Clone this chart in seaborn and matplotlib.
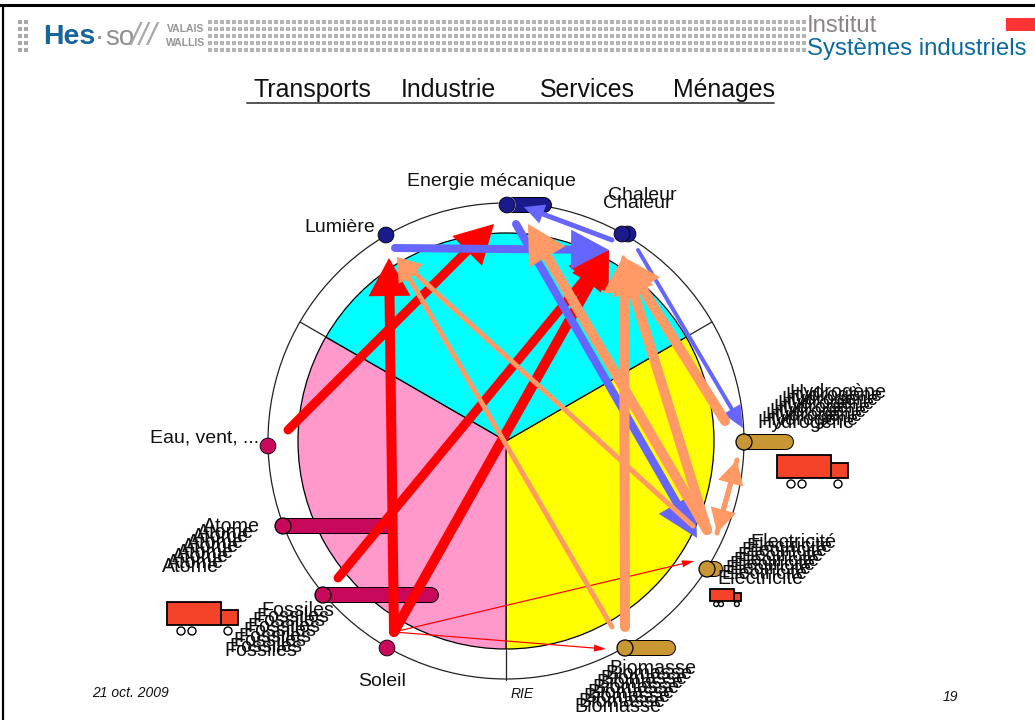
import matplotlib
matplotlib.use("Agg")
import matplotlib.pyplot as plt
import numpy as np
import pandas as pd
import seaborn as sns
from matplotlib.patches import Circle, Rectangle

# Diagram data, in slide pixels
sector_shares = [1, 1, 1]
sector_colors = ["#ffff00", "#ff99cc", "#00ffff"]
pie_center = (506, 441)
pie_radius = 208
ring_radius = 238
ring_ticks = [((506, 650), (506, 680)), ((686, 337), (712, 322)), ((326, 337), (300, 322))]

node_names = ["Lumière", "Energie", "Chaleur", "Chaleur 2", "Soleil", "Eau"]
node_x = [386, 507, 628, 622, 387, 268]
node_y = [235, 205, 234, 234, 648, 446]

# name, x, y, bar end x, colour
tank_names = ["Energie", "Hydrogène", "Electricité", "Biomasse", "Atome", "Fossiles"]
tank_x = [507, 744, 707, 625, 283, 323]
tank_y = [205, 442, 569, 648, 526, 595]
tank_end = [551, 793, 722, 675, 395, 438]
tank_colors = ["#1a1a8c", "#c89632", "#c89632", "#c89632", "#c8085a", "#c8085a"]

# start, tip, shaft, head length, head width
red_arrows = [
    ((394, 632), (389, 258), 10, 38, 42),
    ((288, 430), (494, 224), 9, 38, 42),
    ((338, 578), (609, 250), 9, 38, 42),
    ((394, 632), (609, 250), 10, 38, 42),
    ((394, 632), (694, 561), 1.2, 12, 7),
    ((394, 632), (606, 649), 1.2, 12, 7),
]
blue_arrows = [
    ((395, 248), (609, 250), 8, 38, 40),
    ((612, 240), (524, 207), 5, 20, 20),
    ((516, 224), (697, 538), 8, 40, 42),
    ((638, 250), (743, 428), 4, 22, 20),
]
orange_arrows = [
    ((612, 627), (397, 257), 5, 24, 24),
    ((693, 526), (397, 257), 5, 24, 24),
    ((625, 627), (624, 255), 10, 38, 42),
    ((707, 530), (622, 255), 10, 38, 42),
    ((725, 421), (622, 256), 10, 38, 42),
    ((707, 530), (528, 224), 10, 38, 42),
    ((737, 460), (717, 533), 5, 24, 26),
    ((717, 533), (737, 460), 5, 24, 26),
]

truck_x = [777, 167, 710]
truck_y = [455, 602, 589]
truck_scale_x = [1.0, 1.0, 0.44]
truck_scale_y = [1.0, 1.0, 0.52]

header_words = ["Transports", "Industrie", "Services", "Ménages"]
header_x = [253, 401, 540, 673]

stack_labels = ["Hydrogène", "Atome", "Fossiles", "Electricité", "Biomasse"]
stack_bottom = [(806, 423), (190, 567), (261, 651), (760, 578), (618, 706)]
stack_top = [(838, 392), (231, 527), (298, 611), (793, 542), (653, 669)]
stack_count = [9, 9, 9, 9, 9]

plain_labels = ["Energie mécanique", "Lumière", "Eau, vent, ...", "Soleil", "Chaleur", "Chaleur"]
plain_x = [491, 340, 205, 382, 642, 637]
plain_y = [181, 228, 438, 682, 196, 203]

sns.set_theme(style="white")
plt.rcParams["font.family"] = ["Liberation Sans", "DejaVu Sans"]

fig = plt.figure(figsize=(10.35, 7.2), dpi=100)
ax = fig.add_axes([0, 0, 1, 1])


def px(width):
    return width * 72 / 100


def draw_arrow(start, tip, shaft, head_len, head_w, color, z):
    start = np.array(start, dtype=float)
    tip = np.array(tip, dtype=float)
    d = (tip - start) / np.linalg.norm(tip - start)
    n = np.array([-d[1], d[0]])
    base = tip - d * head_len
    ax.plot([start[0], base[0]], [start[1], base[1]], color=color, lw=px(shaft),
            solid_capstyle="round", zorder=z)
    c1 = base + n * head_w / 2
    c2 = base - n * head_w / 2
    ax.fill([tip[0], c1[0], c2[0]], [tip[1], c1[1], c2[1]], color=color, lw=0, zorder=z)


def draw_truck(x, y, sx, sy):
    ax.add_patch(Rectangle((x, y), 54 * sx, 23 * sy, fc="#f5432a", ec="black", lw=1.3, zorder=3))
    ax.add_patch(Rectangle((x + 54 * sx, y + 8 * sy), 17 * sx, 15 * sy, fc="#f5432a", ec="black", lw=1.3, zorder=3))
    for wx in [14, 25, 61]:
        ax.add_patch(Circle((x + wx * sx, y + 29 * sy), 4 * max(sx, 0.6), fc="white", ec="black", lw=1, zorder=3))


# Pie and ring
ax.pie(sector_shares, colors=sector_colors, center=pie_center, radius=pie_radius,
       startangle=-30, counterclock=True, frame=True,
       wedgeprops={"edgecolor": "black", "linewidth": 0.9})
ax.add_patch(Circle(pie_center, ring_radius, fill=False, ec="#222222", lw=0.9, zorder=1))
for a, b in ring_ticks:
    ax.plot([a[0], b[0]], [a[1], b[1]], color="#222222", lw=0.9, zorder=1)

# Tanks
for name, x, y, end, color in zip(tank_names, tank_x, tank_y, tank_end, tank_colors):
    ax.plot([x, end - 7], [y, y], color="black", lw=px(16), solid_capstyle="round", zorder=2)
    ax.plot([x, end - 7], [y, y], color=color, lw=px(14), solid_capstyle="round", zorder=2)
    ax.add_patch(Circle((x, y), 8, fc=color, ec="black" if color != "#1a1a8c" else "white", lw=0.9, zorder=2.5))

# Nodes
nodes = pd.DataFrame({"name": node_names, "x": node_x, "y": node_y})
sns.scatterplot(data=nodes, x="x", y="y", hue="name",
                palette=["#1a1a8c", "#1a1a8c", "#1a1a8c", "#1a1a8c", "#c8085a", "#c8085a"],
                s=130, edgecolor="black", linewidth=0.6, legend=False, ax=ax, zorder=2.5)

# Arrows
for a in red_arrows:
    draw_arrow(*a, "#ff0000", 4)
for a in blue_arrows:
    draw_arrow(*a, "#6666ff", 5)
for a in orange_arrows:
    draw_arrow(*a, "#ff9966", 6)

for x, y, sx, sy in zip(truck_x, truck_y, truck_scale_x, truck_scale_y):
    draw_truck(x, y, sx, sy)

# Labels
for name, x, y in zip(plain_labels, plain_x, plain_y):
    ax.text(x, y, name, fontsize=14, ha="center", va="center", color="#111111", zorder=8)

for name, a, b, n in zip(stack_labels, stack_bottom, stack_top, stack_count):
    for t in range(n):
        ax.text(a[0] + (b[0] - a[0]) * t / (n - 1), a[1] + (b[1] - a[1]) * t / (n - 1), name,
                fontsize=14.2, ha="center", va="center", color="#111111", zorder=8)

# Slide header
band_x = np.arange(210, 806, 6.0)
band_rows = [22, 29, 36, 43, 50]
for row in band_rows:
    ax.scatter(band_x, np.full(len(band_x), row), s=5, color="#b4b4b4", marker="s", lw=0, zorder=1)
    ax.scatter([20, 26], [row, row], s=7, color="#a8a8a8", marker="s", lw=0, zorder=1)
ax.text(43, 37, "Hes", fontsize=20.5, fontweight="bold", color="#17659b", va="center", ha="left", zorder=3)
ax.text(95, 38, "·", fontsize=20, color="#909090", va="center", ha="left", zorder=3)
ax.text(105, 38, "so", fontsize=20, color="#909090", va="center", ha="left", zorder=3)
ax.text(144, 37, "///", fontsize=23, style="italic", color="#a8a8a8", va="center", ha="center", zorder=3)
ax.text(186, 29, "VALAIS", fontsize=7.5, fontweight="bold", color="#959595", ha="center", va="center", zorder=3)
ax.text(186, 43, "WALLIS", fontsize=7.5, fontweight="bold", color="#959595", ha="center", va="center", zorder=3)
ax.text(807, 26, "Institut", fontsize=17.3, color="#8c8484", ha="left", va="center", zorder=3)
ax.text(807, 49, "Systèmes industriels", fontsize=17.3, color="#0a6aa0", ha="left", va="center", zorder=3)
ax.add_patch(Rectangle((1006, 18), 29, 13, fc="#ff3333", ec="none", zorder=3))

for word, x in zip(header_words, header_x):
    ax.text(x, 90, word, fontsize=17.9, ha="left", va="center", color="#111111")
ax.plot([247, 774], [103, 103], color="#555555", lw=1.4)

# Footer
ax.text(92, 693, "21 oct. 2009", fontsize=10, style="italic", ha="left", va="center", color="#111111")
ax.text(511, 694, "RIE", fontsize=10, style="italic", ha="left", va="center", color="#111111")
ax.text(943, 697, "19", fontsize=10, style="italic", ha="left", va="center", color="#111111")

# Slide frame
ax.plot([2.5, 2.5], [5, 720], color="black", lw=1.6, zorder=9)
ax.plot([0, 1035], [5, 5], color="black", lw=2.2, zorder=9)

ax.set_aspect("auto")
ax.set_xlim(0, 1035)
ax.set_ylim(720, 0)
ax.axis("off")

fig.savefig("out.png", dpi=100)
